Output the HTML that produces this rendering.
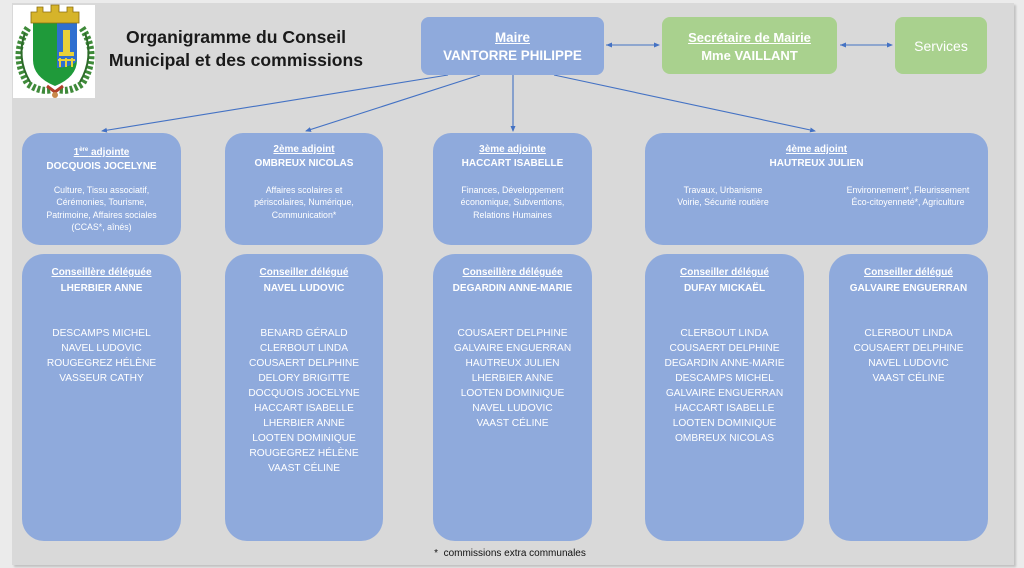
<!DOCTYPE html>
<html><head><meta charset="utf-8">
<style>
*{margin:0;padding:0;box-sizing:border-box}
html,body{width:1024px;height:568px;overflow:hidden;background:#ebebeb;font-family:"Liberation Sans",Arial,sans-serif}
#panel{position:absolute;left:12px;top:3px;width:1002px;height:562px;background:#d9d9d9;box-shadow:2px 2px 2px rgba(0,0,0,0.18)}
.b{position:absolute;background:#8faadc;color:#fff;text-align:center}
.g{background:#a9d18e}
.t{position:absolute;left:0;right:0;text-align:center;white-space:nowrap}
u{text-decoration:underline;text-underline-offset:1px}
.h{font-weight:bold;font-size:10px;line-height:14px}
.d{font-size:8.8px;line-height:12.4px}
.hh{font-weight:bold;font-size:10px;line-height:16px}
.l{font-size:10.2px;line-height:15px}
svg{position:absolute;left:0;top:0}
</style></head><body>
<div id="panel"></div>

<!-- logo -->
<div style="position:absolute;left:13px;top:5px;width:82px;height:93px;background:#fff"></div>
<svg width="1024" height="568" viewBox="0 0 1024 568">
  <!-- wreath -->
  <g fill="none" stroke="#3f8a3a" stroke-width="7" stroke-dasharray="3 2">
    <path d="M28 28 Q10 55 28 84 Q40 92 50 90"/>
    <path d="M82 28 Q100 55 82 84 Q70 92 60 90"/>
  </g>
  <g fill="none" stroke="#2e6b2a" stroke-width="2">
    <path d="M25 33 Q16 58 30 82"/>
    <path d="M85 33 Q94 58 80 82"/>
  </g>
  <!-- shield -->
  <path d="M33 23 L77 23 L77 60 Q77 77 55 86 Q33 77 33 60 Z" fill="#1f9a3a"/>
  <path d="M57 23 L77 23 L77 60 Q75 66 57 68 Z" fill="#2f6fd0"/>
  <rect x="63" y="30" width="7" height="24" fill="#e8d23a"/>
  <rect x="59" y="52" width="15" height="4" fill="#e8d23a"/>
  <path d="M58 60 h17 M60 58 v9 M66 58 v9 M72 58 v9" stroke="#e8d23a" stroke-width="2"/>
  <!-- crown -->
  <path d="M31 23 L31 12 L37 12 L37 7 L43 7 L43 12 L51 12 L51 5 L59 5 L59 12 L67 12 L67 7 L73 7 L73 12 L79 12 L79 23 Z" fill="#d6b42a" stroke="#8a6d10" stroke-width="0.8"/>
  <!-- ribbon/medal -->
  <path d="M47 86 L55 92 L63 86" stroke="#b0402a" stroke-width="3" fill="none"/>
  <circle cx="55" cy="95" r="3" fill="#c9894a"/>

  <!-- connectors -->
  <defs>
    <marker id="a" markerWidth="6" markerHeight="6" refX="5" refY="3" orient="auto" markerUnits="userSpaceOnUse">
      <path d="M0 0.5 L6 3 L0 5.5 Z" fill="#4472c4"/>
    </marker>
  </defs>
  <g stroke="#4472c4" stroke-width="1.1" fill="none">
    <line x1="448" y1="75" x2="102" y2="131" marker-end="url(#a)"/>
    <line x1="480" y1="75" x2="306" y2="131" marker-end="url(#a)"/>
    <line x1="513" y1="75" x2="513" y2="131" marker-end="url(#a)"/>
    <line x1="554" y1="75" x2="815" y2="131" marker-end="url(#a)"/>
    <line x1="606" y1="45" x2="659" y2="45" marker-end="url(#a)"/>
    <line x1="840" y1="45" x2="892" y2="45" marker-end="url(#a)"/>
  </g>
  <path d="M606 45 L612 42.5 L612 47.5 Z M840 45 L846 42.5 L846 47.5 Z" fill="#4472c4"/>
</svg>

<!-- title -->
<div style="position:absolute;left:86px;width:300px;top:26px;text-align:center;font-weight:bold;font-size:17.6px;line-height:23px;color:#1a1a1a">Organigramme du Conseil<br>Municipal et des commissions</div>

<!-- top boxes -->
<div class="b" style="left:421px;top:17px;width:183px;height:58px;border-radius:8px">
  <div class="t" style="top:12px;font-weight:bold;font-size:13.4px;line-height:18px"><u>Maire</u><br>VANTORRE PHILIPPE</div>
</div>
<div class="b g" style="left:662px;top:17px;width:175px;height:57px;border-radius:8px">
  <div class="t" style="top:12px;font-weight:bold;font-size:13px;line-height:18px"><u>Secrétaire de Mairie</u><br>Mme VAILLANT</div>
</div>
<div class="b g" style="left:895px;top:17px;width:92px;height:57px;border-radius:8px">
  <div class="t" style="top:20px;font-size:14px;line-height:18px">Services</div>
</div>

<!-- adjoint row -->
<div class="b" style="left:22px;top:133px;width:159px;height:112px;border-radius:18px">
  <div class="t h" style="top:10px"><u>1<sup style="font-size:6px;vertical-align:4px">ère</sup> adjointe</u><br>DOCQUOIS JOCELYNE</div>
  <div class="t d" style="top:51px">Culture, Tissu associatif,<br>Cérémonies, Tourisme,<br>Patrimoine, Affaires sociales<br>(CCAS*, aînés)</div>
</div>
<div class="b" style="left:225px;top:133px;width:158px;height:112px;border-radius:18px">
  <div class="t h" style="top:10px"><u>2ème adjoint</u><br>OMBREUX NICOLAS</div>
  <div class="t d" style="top:51px">Affaires scolaires et<br>périscolaires, Numérique,<br>Communication*</div>
</div>
<div class="b" style="left:433px;top:133px;width:159px;height:112px;border-radius:18px">
  <div class="t h" style="top:10px"><u>3ème adjointe</u><br>HACCART ISABELLE</div>
  <div class="t d" style="top:51px">Finances, Développement<br>économique, Subventions,<br>Relations Humaines</div>
</div>
<div class="b" style="left:645px;top:133px;width:343px;height:112px;border-radius:18px">
  <div class="t h" style="top:10px"><u>4ème adjoint</u><br>HAUTREUX JULIEN</div>
  <div class="t d" style="top:51px;left:0;right:auto;width:156px">Travaux, Urbanisme<br>Voirie, Sécurité routière</div>
  <div class="t d" style="top:51px;left:186px;right:auto;width:154px">Environnement*, Fleurissement<br>Éco-citoyenneté*, Agriculture</div>
</div>

<!-- conseillers row -->
<div class="b" style="left:22px;top:254px;width:159px;height:287px;border-radius:22px">
  <div class="t hh" style="top:11px"><u>Conseillère déléguée</u><br>LHERBIER ANNE</div>
  <div class="t l" style="top:72px">DESCAMPS MICHEL<br>NAVEL LUDOVIC<br>ROUGEGREZ HÉLÈNE<br>VASSEUR CATHY</div>
</div>
<div class="b" style="left:225px;top:254px;width:158px;height:287px;border-radius:22px">
  <div class="t hh" style="top:11px"><u>Conseiller délégué</u><br>NAVEL LUDOVIC</div>
  <div class="t l" style="top:72px">BENARD GÉRALD<br>CLERBOUT LINDA<br>COUSAERT DELPHINE<br>DELORY BRIGITTE<br>DOCQUOIS JOCELYNE<br>HACCART ISABELLE<br>LHERBIER ANNE<br>LOOTEN DOMINIQUE<br>ROUGEGREZ HÉLÈNE<br>VAAST CÉLINE</div>
</div>
<div class="b" style="left:433px;top:254px;width:159px;height:287px;border-radius:22px">
  <div class="t hh" style="top:11px"><u>Conseillère déléguée</u><br>DEGARDIN ANNE-MARIE</div>
  <div class="t l" style="top:72px">COUSAERT DELPHINE<br>GALVAIRE ENGUERRAN<br>HAUTREUX JULIEN<br>LHERBIER ANNE<br>LOOTEN DOMINIQUE<br>NAVEL LUDOVIC<br>VAAST CÉLINE</div>
</div>
<div class="b" style="left:645px;top:254px;width:159px;height:287px;border-radius:22px">
  <div class="t hh" style="top:11px"><u>Conseiller délégué</u><br>DUFAY MICKAËL</div>
  <div class="t l" style="top:72px">CLERBOUT LINDA<br>COUSAERT DELPHINE<br>DEGARDIN ANNE-MARIE<br>DESCAMPS MICHEL<br>GALVAIRE ENGUERRAN<br>HACCART ISABELLE<br>LOOTEN DOMINIQUE<br>OMBREUX NICOLAS</div>
</div>
<div class="b" style="left:829px;top:254px;width:159px;height:287px;border-radius:22px">
  <div class="t hh" style="top:11px"><u>Conseiller délégué</u><br>GALVAIRE ENGUERRAN</div>
  <div class="t l" style="top:72px">CLERBOUT LINDA<br>COUSAERT DELPHINE<br>NAVEL LUDOVIC<br>VAAST CÉLINE</div>
</div>

<div style="position:absolute;left:380px;width:260px;top:548px;text-align:center;font-size:10px;line-height:12px;color:#111">*&nbsp; commissions extra communales</div>
</body></html>
